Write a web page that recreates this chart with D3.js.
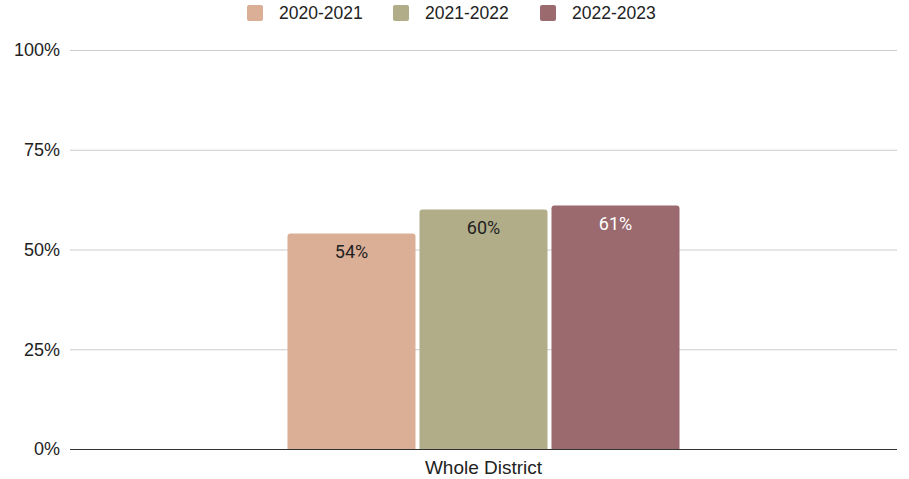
<!DOCTYPE html>
<html>
<head>
<meta charset="utf-8">
<script src="https://cdn.jsdelivr.net/npm/d3@7"></script>
<style>
  body { margin: 0; background: #fff; }
  svg { display: block; }
</style>
</head>
<body>
<svg id="chart" width="909" height="479"></svg>
<script>
// Chart data
const categories = ["Whole District"];
const seriesNames = ["2020-2021", "2021-2022", "2022-2023"];
const seriesValues = [[54], [60], [61]];
const seriesColors = ["#dbae96", "#b0ad88", "#9a6a6f"];
const labelColors = ["#222222", "#222222", "#ffffff"];
const yTicks = [0, 25, 50, 75, 100];

const svg = d3.select("#chart");
const margin = { left: 70, right: 12, top: 50, bottom: 30 };
const W = 909, H = 479;
const plotBottom = 449;

const y = d3.scaleLinear().domain([0, 100]).range([plotBottom, margin.top]);
const x0 = d3.scaleBand().domain(categories)
  .range([margin.left, W - margin.right])
  .paddingInner(0).paddingOuter(0.5548);
const x1 = d3.scaleBand().domain(seriesNames)
  .range([0, x0.bandwidth()])
  .paddingInner(4 / 132).paddingOuter(0);

// Gridlines and tick labels
const yAxis = d3.axisLeft(y).tickValues(yTicks).tickFormat(d => d + "%")
  .tickSize(-(W - margin.right - margin.left)).tickPadding(10);
const gy = svg.append("g").attr("transform", `translate(${margin.left},0)`).call(yAxis);
gy.select(".domain").remove();
gy.selectAll(".tick line").attr("stroke", "#cccccc").attr("stroke-width", 1);
gy.selectAll(".tick text")
  .attr("font-family", "Liberation Sans, Arial, sans-serif")
  .attr("font-size", 18).attr("fill", "#222");

// Bars with rounded tops
function topRoundedRect(x, y0, w, h, r) {
  return `M${x},${y0 + h}V${y0 + r}Q${x},${y0} ${x + r},${y0}H${x + w - r}Q${x + w},${y0} ${x + w},${y0 + r}V${y0 + h}Z`;
}

categories.forEach((cat, ci) => {
  const g = svg.append("g").attr("transform", `translate(${x0(cat)},0)`);
  seriesNames.forEach((s, si) => {
    const v = seriesValues[si][ci];
    const bx = x1(s), bw = x1.bandwidth();
    const by = y(v), bh = y(0) - y(v);
    g.append("path")
      .attr("d", topRoundedRect(bx, by, bw, bh, 3))
      .attr("fill", seriesColors[si]);
    g.append("text")
      .attr("x", bx + bw / 2).attr("y", by + 24)
      .attr("text-anchor", "middle")
      .attr("font-family", "Roboto, sans-serif")
      .attr("font-size", 18)
      .attr("fill", labelColors[si])
      .text(v + "%");
  });
});

// Baseline
svg.append("line")
  .attr("x1", margin.left).attr("x2", W - margin.right)
  .attr("y1", y(0) + 0.5).attr("y2", y(0) + 0.5)
  .attr("stroke", "#333").attr("stroke-width", 1);

// Category label
svg.selectAll(".cat").data(categories).enter().append("text")
  .attr("x", d => x0(d) + x0.bandwidth() / 2).attr("y", 474)
  .attr("text-anchor", "middle")
  .attr("font-family", "Liberation Sans, Arial, sans-serif")
  .attr("font-size", 19).attr("fill", "#222")
  .text(d => d);

// Legend
const legendX = [247, 393, 540];
const legend = svg.append("g");
seriesNames.forEach((s, i) => {
  legend.append("rect")
    .attr("x", legendX[i]).attr("y", 5).attr("width", 16).attr("height", 16)
    .attr("rx", 2).attr("fill", seriesColors[i]);
  legend.append("text")
    .attr("x", legendX[i] + 32).attr("y", 19)
    .attr("font-family", "Liberation Sans, Arial, sans-serif")
    .attr("font-size", 17.5).attr("fill", "#222")
    .text(s);
});
</script>
</body>
</html>
